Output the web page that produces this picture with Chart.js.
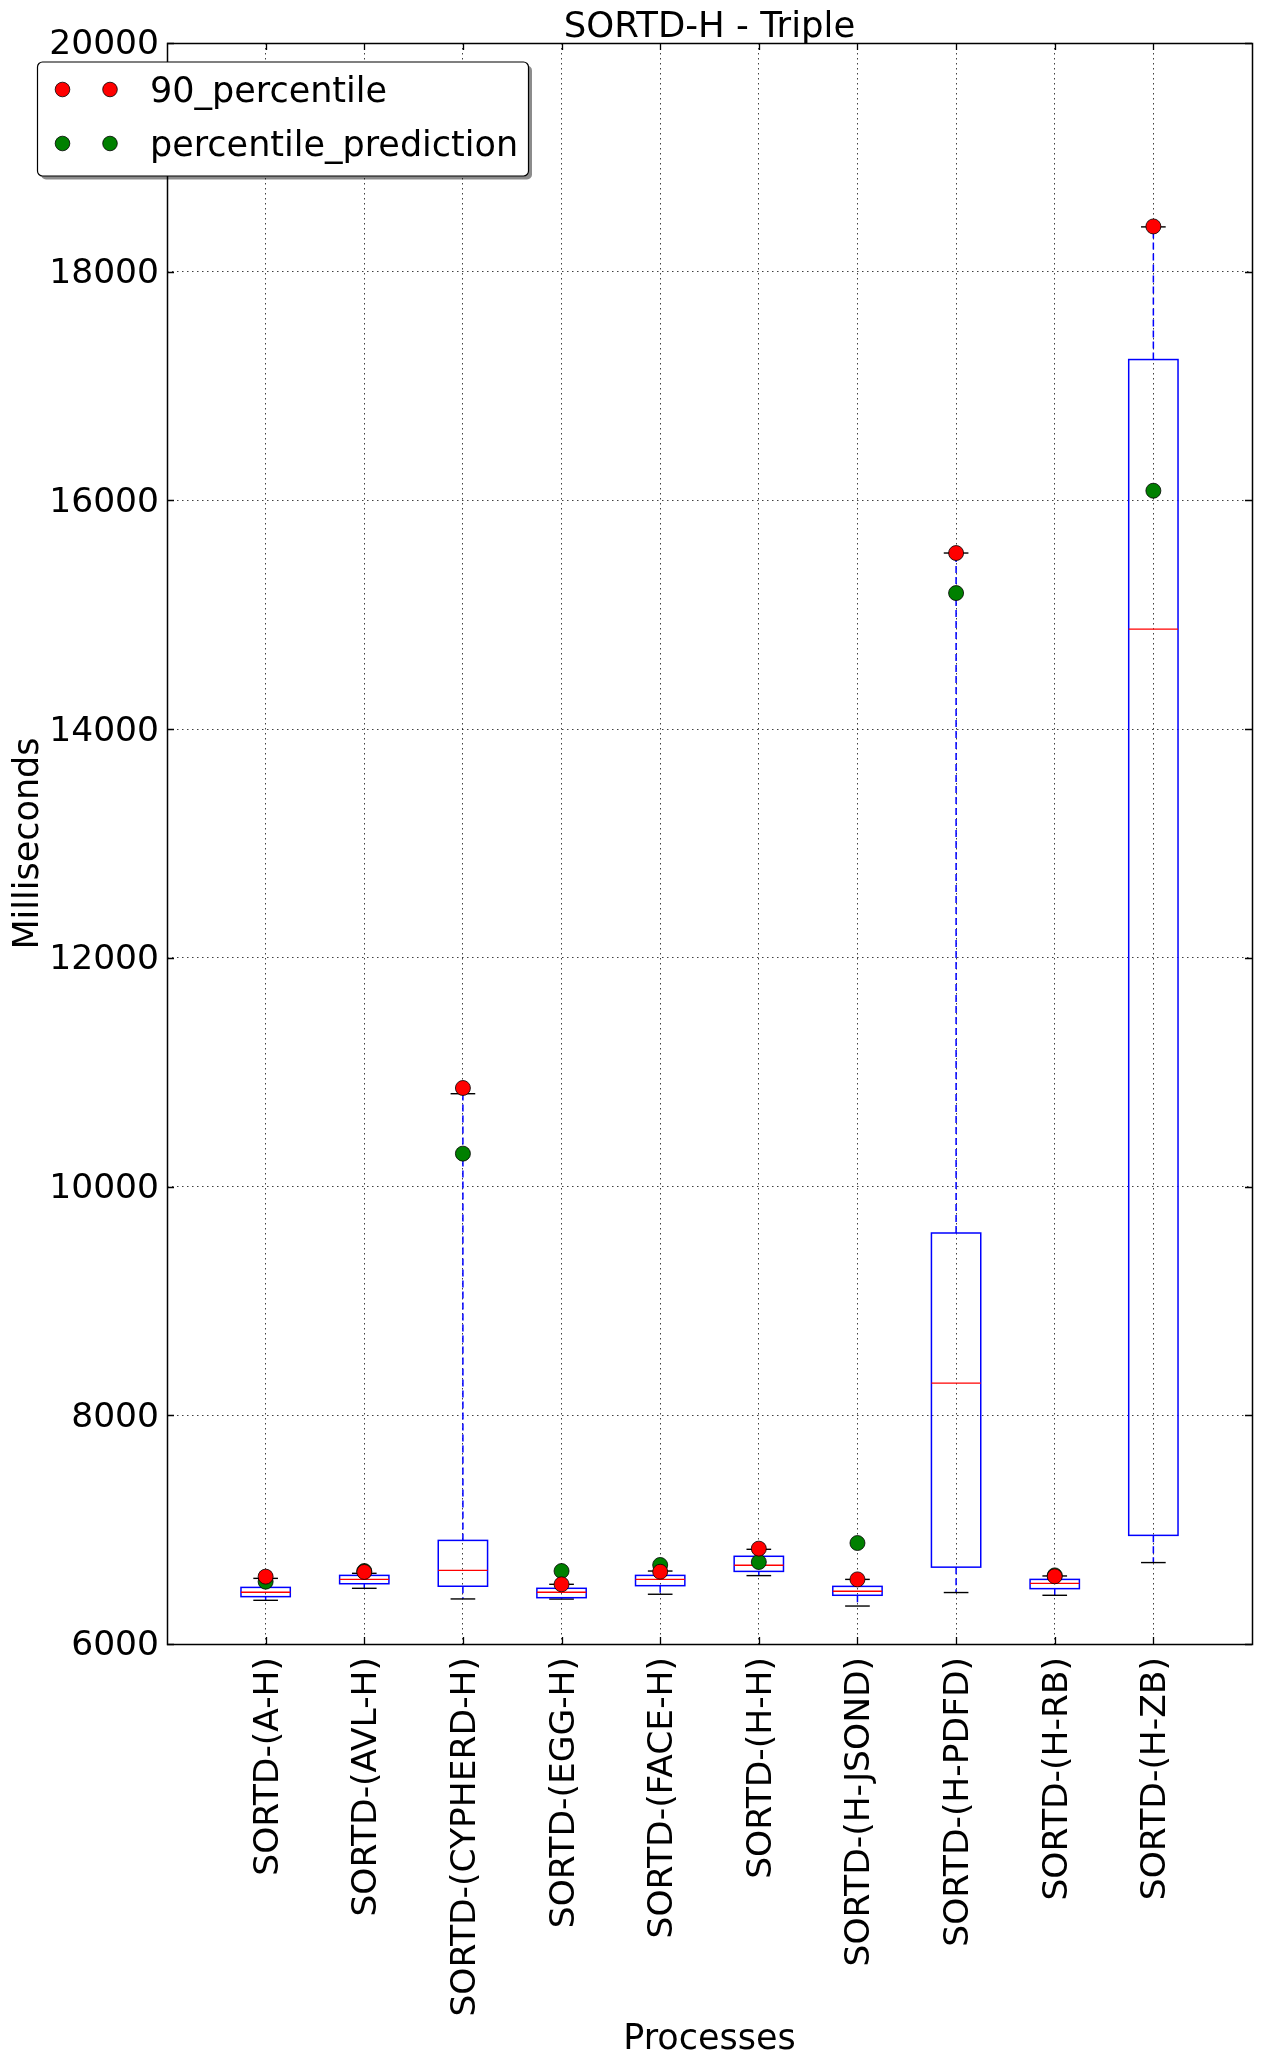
<!DOCTYPE html>
<html>
<head>
<meta charset="utf-8">
<script src="https://cdn.jsdelivr.net/npm/chart.js@4.4.1/dist/chart.umd.min.js"></script>
<style>
  html, body { margin: 0; padding: 0; background: #ffffff; }
  #wrap { width: 1261px; height: 2065px; }
</style>
</head>
<body>
<div id="wrap"><canvas id="c" width="1261" height="2065"></canvas></div>
<script>
// ---- data ----
const categories = ['SORTD-(A-H)', 'SORTD-(AVL-H)', 'SORTD-(CYPHERD-H)', 'SORTD-(EGG-H)', 'SORTD-(FACE-H)',
                    'SORTD-(H-H)', 'SORTD-(H-JSOND)', 'SORTD-(H-PDFD)', 'SORTD-(H-RB)', 'SORTD-(H-ZB)'];
const whiskerLow  = [6382, 6487, 6394, 6393, 6435, 6598, 6332, 6450, 6426, 6712];
const q1          = [6414, 6527, 6505, 6405, 6510, 6635, 6426, 6672, 6484, 6950];
const median      = [6452, 6565, 6644, 6452, 6565, 6688, 6461, 8281, 6530, 14875];
const q3          = [6495, 6600, 6906, 6487, 6600, 6767, 6504, 9594, 6565, 17232];
const whiskerHigh = [6574, 6618, 10812, 6522, 6638, 6828, 6565, 15540, 6595, 18392];
const p90         = [6589, 6630, 10862, 6522, 6632, 6834, 6565, 15540, 6592, 18396];
const prediction  = [6545, 6638, 10288, 6638, 6691, 6717, 6883, 15190, 6600, 16085];
const yTicks      = [6000, 8000, 10000, 12000, 14000, 16000, 18000, 20000];
const seriesNames = ['90_percentile', 'percentile_prediction'];
const titleText   = 'SORTD-H - Triple';
const xTitle      = 'Processes';
const yTitle      = 'Milliseconds';

const FONT = '"DejaVu Sans", "Liberation Sans", sans-serif';
const FS = 35;
const TICK_FS = 34.5;
const RED = '#ff0000', GREEN = '#008000', BLUE = '#0000ff';

// box plot drawn through the chart's scales
const boxPlugin = {
  id: 'boxes',
  beforeDatasetsDraw(chart) {
    const ctx = chart.ctx, xs = chart.scales.x, ys = chart.scales.y;
    const area = chart.chartArea;
    ctx.save();
    ctx.beginPath();
    ctx.rect(area.left, area.top, area.right - area.left, area.bottom - area.top);
    ctx.clip();
    categories.forEach((c, i) => {
      const pos = i + 1;
      const xl = xs.getPixelForValue(pos - 0.25), xr = xs.getPixelForValue(pos + 0.25);
      const cl = xs.getPixelForValue(pos - 0.125), cr = xs.getPixelForValue(pos + 0.125);
      const xc = xs.getPixelForValue(pos);
      const yLo = ys.getPixelForValue(whiskerLow[i]), yQ1 = ys.getPixelForValue(q1[i]);
      const yMed = ys.getPixelForValue(median[i]), yQ3 = ys.getPixelForValue(q3[i]);
      const yHi = ys.getPixelForValue(whiskerHigh[i]);
      // whiskers (dashed blue)
      ctx.strokeStyle = BLUE; ctx.lineWidth = 1.5; ctx.setLineDash([7, 4]);
      ctx.beginPath(); ctx.moveTo(xc, yQ3); ctx.lineTo(xc, yHi); ctx.stroke();
      ctx.beginPath(); ctx.moveTo(xc, yQ1); ctx.lineTo(xc, yLo); ctx.stroke();
      ctx.setLineDash([]);
      // caps (black)
      ctx.strokeStyle = '#000000'; ctx.lineWidth = 1.4;
      ctx.beginPath(); ctx.moveTo(cl, yHi); ctx.lineTo(cr, yHi); ctx.stroke();
      ctx.beginPath(); ctx.moveTo(cl, yLo); ctx.lineTo(cr, yLo); ctx.stroke();
      // box
      ctx.strokeStyle = BLUE; ctx.lineWidth = 1.5;
      ctx.strokeRect(xl, yQ3, xr - xl, yQ1 - yQ3);
      // median
      ctx.strokeStyle = RED; ctx.lineWidth = 1.4;
      ctx.beginPath(); ctx.moveTo(xl, yMed); ctx.lineTo(xr, yMed); ctx.stroke();
    });
    ctx.restore();
  }
};

// frame + inward ticks (matplotlib classic look)
const framePlugin = {
  id: 'frame',
  afterDatasetsDraw(chart) {
    const ctx = chart.ctx, a = chart.chartArea, xs = chart.scales.x, ys = chart.scales.y;
    ctx.save();
    ctx.strokeStyle = '#000000'; ctx.lineWidth = 1.3;
    const L = 7;
    ctx.beginPath();
    yTicks.forEach(v => {
      const y = Math.round(ys.getPixelForValue(v)) + 0.5;
      ctx.moveTo(a.left, y); ctx.lineTo(a.left + L, y);
      ctx.moveTo(a.right, y); ctx.lineTo(a.right - L, y);
    });
    categories.forEach((c, i) => {
      const x = Math.round(xs.getPixelForValue(i + 1)) + 0.5;
      ctx.moveTo(x, a.top); ctx.lineTo(x, a.top + L);
      ctx.moveTo(x, a.bottom); ctx.lineTo(x, a.bottom - L);
    });
    ctx.stroke();
    ctx.lineWidth = 1.5;
    ctx.strokeRect(Math.round(a.left) + 0.5, Math.round(a.top) + 0.5,
                   Math.round(a.right - a.left), Math.round(a.bottom - a.top));
    ctx.restore();
  }
};

// matplotlib-like legend inside the axes (two markers per entry)
const legendPlugin = {
  id: 'mplLegend',
  afterDraw(chart) {
    const ctx = chart.ctx;
    const bx = 37.5, by = 62, bw = 491, bh = 114, r = 5;
    ctx.save();
    // shadow
    ctx.fillStyle = 'rgba(0,0,0,0.45)';
    ctx.beginPath(); ctx.roundRect(bx + 3.5, by + 3.5, bw, bh, r); ctx.fill();
    ctx.fillStyle = '#ffffff'; ctx.strokeStyle = '#000000'; ctx.lineWidth = 1.2;
    ctx.beginPath(); ctx.roundRect(bx, by, bw, bh, r); ctx.fill(); ctx.stroke();
    const rows = [89.5, 143.5];
    const colors = [RED, GREEN];
    rows.forEach((y, k) => {
      [62.5, 110].forEach(x => {
        ctx.beginPath(); ctx.arc(x, y, 7.3, 0, Math.PI * 2);
        ctx.fillStyle = colors[k]; ctx.fill();
        ctx.lineWidth = 0.8; ctx.strokeStyle = '#000000'; ctx.stroke();
      });
      ctx.fillStyle = '#000000';
      ctx.font = FS + 'px ' + FONT;
      ctx.textBaseline = 'alphabetic'; ctx.textAlign = 'left';
      ctx.fillText(seriesNames[k], 150, y + 12);
    });
    ctx.restore();
  }
};

const pointsFrom = arr => arr.map((v, i) => ({ x: i + 1, y: v }));

new Chart(document.getElementById('c'), {
  type: 'scatter',
  data: {
    datasets: [
      { label: seriesNames[0], data: pointsFrom(p90), pointRadius: 7.5, pointHoverRadius: 7.5,
        backgroundColor: RED, borderColor: '#000000', borderWidth: 0.8 },
      { label: seriesNames[1], data: pointsFrom(prediction), pointRadius: 7.5, pointHoverRadius: 7.5,
        backgroundColor: GREEN, borderColor: '#000000', borderWidth: 0.8 }
    ]
  },
  options: {
    responsive: false,
    animation: false,
    devicePixelRatio: 1,
    layout: { padding: { left: 0, right: 9, top: 0, bottom: 0 } },
    plugins: {
      legend: { display: false },
      tooltip: { enabled: false },
      title: {
        display: true, text: titleText, color: '#000000', fullSize: false,
        font: { family: FONT, size: 35.5, weight: 'normal', lineHeight: 30 / 35.5 },
        padding: { top: 12.5, bottom: 0.5 }
      }
    },
    scales: {
      x: {
        type: 'linear', min: 0, max: categories.length + 1,
        afterBuildTicks(scale) {
          scale.ticks = categories.map((c, i) => ({ value: i + 1 }));
        },
        afterFit(scale) { scale.height = 421; },
        ticks: {
          autoSkip: false, minRotation: 90, maxRotation: 90, padding: 13, labelOffset: 3,
          color: '#000000', font: { family: FONT, size: TICK_FS },
          callback: v => categories[v - 1] || ''
        },
        grid: { display: true, drawTicks: false, color: 'rgba(0,0,0,0.75)', lineWidth: 1 },
        border: { display: false, dash: [1.5, 3.5] },
        title: {
          display: true, text: xTitle, color: '#000000',
          font: { family: FONT, size: FS, lineHeight: 1 }, padding: { top: 0, bottom: 7.5 }
        }
      },
      y: {
        type: 'linear', min: yTicks[0], max: yTicks[yTicks.length - 1],
        afterBuildTicks(scale) { scale.ticks = yTicks.map(v => ({ value: v })); },
        afterFit(scale) { scale.width = 167; },
        ticks: {
          padding: 8, labelOffset: 2.5, color: '#000000', font: { family: FONT, size: TICK_FS },
          callback: v => String(v)
        },
        grid: { display: true, drawTicks: false, color: 'rgba(0,0,0,0.75)', lineWidth: 1 },
        border: { display: false, dash: [1.5, 3.5] },
        title: {
          display: true, text: yTitle, color: '#000000',
          font: { family: FONT, size: FS, lineHeight: 1 }, padding: { top: 11.7, bottom: 0 }
        }
      }
    }
  },
  plugins: [boxPlugin, framePlugin, legendPlugin]
});
</script>
</body>
</html>
